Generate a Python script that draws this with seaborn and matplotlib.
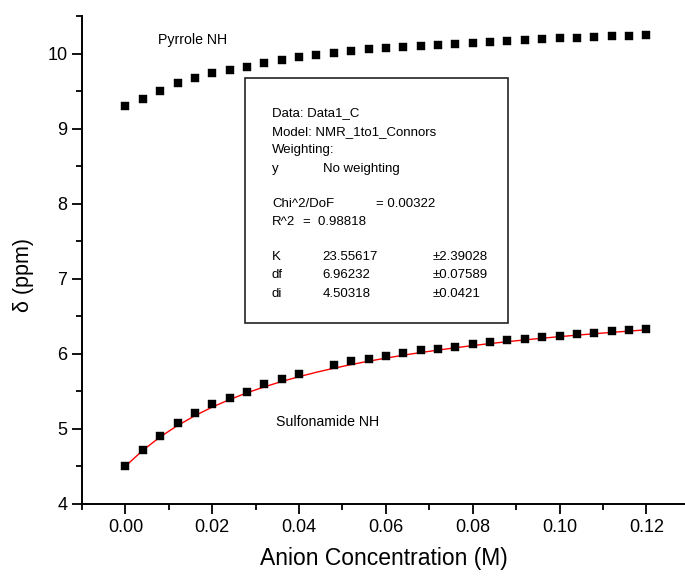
import matplotlib
matplotlib.use("Agg")
import matplotlib.pyplot as plt
from matplotlib.patches import Rectangle
from matplotlib.ticker import MultipleLocator
import numpy as np
import pandas as pd
import seaborn as sns

# ---- data ----
conc_pyrrole = [0.000, 0.004, 0.008, 0.012, 0.016, 0.020, 0.024, 0.028, 0.032, 0.036,
                0.040, 0.044, 0.048, 0.052, 0.056, 0.060, 0.064, 0.068, 0.072, 0.076,
                0.080, 0.084, 0.088, 0.092, 0.096, 0.100, 0.104, 0.108, 0.112, 0.116, 0.120]
shift_pyrrole = [9.295, 9.400, 9.499, 9.614, 9.677, 9.743, 9.783, 9.827, 9.880, 9.916,
                 9.951, 9.983, 10.009, 10.036, 10.057, 10.076, 10.090, 10.102, 10.120, 10.133,
                 10.146, 10.160, 10.169, 10.177, 10.190, 10.203, 10.213, 10.222, 10.230, 10.231, 10.249]

conc_sulfon = [0.000, 0.004, 0.008, 0.012, 0.016, 0.020, 0.024, 0.028, 0.032, 0.036,
               0.040, 0.048, 0.052, 0.056, 0.060, 0.064, 0.068, 0.072, 0.076,
               0.080, 0.084, 0.088, 0.092, 0.096, 0.100, 0.104, 0.108, 0.112, 0.116, 0.120]
shift_sulfon = [4.505, 4.718, 4.900, 5.080, 5.210, 5.330, 5.410, 5.493, 5.605, 5.666,
                5.730, 5.858, 5.906, 5.937, 5.972, 6.008, 6.046, 6.070, 6.097,
                6.131, 6.158, 6.181, 6.198, 6.221, 6.238, 6.265, 6.283, 6.300, 6.314, 6.336]

fit_conc = [0.000, 0.004, 0.008, 0.012, 0.016, 0.020, 0.024, 0.028, 0.032, 0.036,
            0.040, 0.044, 0.048, 0.052, 0.056, 0.060, 0.064, 0.068, 0.072, 0.076,
            0.080, 0.084, 0.088, 0.092, 0.096, 0.100, 0.104, 0.108, 0.112, 0.116, 0.120]
fit_shift = [4.503, 4.715, 4.893, 5.045, 5.176, 5.291, 5.391, 5.481, 5.560, 5.632,
             5.696, 5.755, 5.808, 5.857, 5.902, 5.943, 5.982, 6.017, 6.050, 6.081,
             6.110, 6.137, 6.162, 6.186, 6.208, 6.229, 6.249, 6.268, 6.286, 6.303, 6.320]

x_ticks = [0.00, 0.02, 0.04, 0.06, 0.08, 0.10, 0.12]
x_tick_labels = ["0.00", "0.02", "0.04", "0.06", "0.08", "0.10", "0.12"]
y_ticks = [4, 5, 6, 7, 8, 9, 10]

box_lines = [
    ("Data: Data1_C", None, None),
    ("Model: NMR_1to1_Connors", None, None),
    ("Weighting:", None, None),
    ("y", "No weighting", None),
    ("Chi^2/DoF", "= 0.00322", None),
    ("R^2", "=  0.98818", None),
    ("K", "23.55617", "\u00b12.39028"),
    ("df", "6.96232", "\u00b10.07589"),
    ("di", "4.50318", "\u00b10.0421"),
]

# ---- style ----
sns.set_theme(style="ticks")
plt.rcParams["font.family"] = ["Liberation Sans", "DejaVu Sans"]
plt.rcParams["text.color"] = "black"
plt.rcParams["axes.labelcolor"] = "black"
plt.rcParams["xtick.color"] = "black"
plt.rcParams["ytick.color"] = "black"

W, H = 685, 576
fig = plt.figure(figsize=(W / 100, H / 100), dpi=100)
L, R, T, B = 82, 685, 16, 504
ax = fig.add_axes([L / W, (H - B) / H, (R - L) / W, (B - T) / H])

df_p = pd.DataFrame({"conc": conc_pyrrole, "shift": shift_pyrrole})
df_s = pd.DataFrame({"conc": conc_sulfon, "shift": shift_sulfon})
df_f = pd.DataFrame({"conc": fit_conc, "shift": fit_shift})

sns.lineplot(data=df_f, x="conc", y="shift", ax=ax, color="#ff0000", linewidth=1.0,
             legend=False, zorder=2)
sns.scatterplot(data=df_p, x="conc", y="shift", ax=ax, marker="s", s=34, color="black",
                edgecolor="black", linewidth=0.3, legend=False, zorder=3)
sns.scatterplot(data=df_s, x="conc", y="shift", ax=ax, marker="s", s=38, color="black",
                edgecolor="black", linewidth=0.3, legend=False, zorder=3)

ax.set_xlim(-0.01, 0.1289)
ax.set_ylim(4, 10.5)
ax.set_xticks(x_ticks)
ax.set_xticklabels(x_tick_labels)
ax.set_yticks(y_ticks)
ax.xaxis.set_minor_locator(MultipleLocator(0.01))
ax.yaxis.set_minor_locator(MultipleLocator(0.5))

for s in ["top", "right"]:
    ax.spines[s].set_visible(False)
for s in ["left", "bottom"]:
    ax.spines[s].set_linewidth(1.4)
    ax.spines[s].set_color("black")

ax.tick_params(axis="both", which="major", direction="out", length=7, width=1.3,
               labelsize=13, pad=3.5, colors="black")
ax.tick_params(axis="both", which="minor", direction="out", length=4, width=1.3,
               colors="black")

ax.set_xlabel("Anion Concentration (M)", fontsize=16.5, labelpad=8, color="black")
ax.set_ylabel("\u03b4 (ppm)", fontsize=15.5, color="black")
ax.yaxis.set_label_coords(-0.08, 0.469)

# series labels
ax.text((157.7 - L) / (R - L), (B - 40) / (B - T), "Pyrrole NH", transform=ax.transAxes,
        fontsize=10.2, ha="left", va="center", color="black")
ax.text((275.7 - L) / (R - L), (B - 422.3) / (B - T), "Sulfonamide NH", transform=ax.transAxes,
        fontsize=10.2, ha="left", va="center", color="black")

# fit result box
bx0, bx1, by0, by1 = 245, 508, 78, 323
ax.add_patch(Rectangle(((bx0 - L) / (R - L), (B - by1) / (B - T)),
                       (bx1 - bx0) / (R - L), (by1 - by0) / (B - T),
                       transform=ax.transAxes, fill=True, facecolor="white",
                       edgecolor="#222222", linewidth=1.2, zorder=4))

line_y = [111.7, 130, 148.5, 167, 202, 220.5, 255.5, 273.8, 292.2]
col1 = 272
col2_default = 322.7
col3 = 432.7
for (a, b, c), py in zip(box_lines, line_y):
    fy = (B - py - 4.7) / (B - T)
    ax.text((col1 - L) / (R - L), fy, a, transform=ax.transAxes, fontsize=9.5,
            ha="left", va="baseline", zorder=5, color="black")
    if b is not None:
        if a.startswith("Chi"):
            bx = 376
        elif a.startswith("R^2"):
            bx = 303.3
        else:
            bx = col2_default
        ax.text((bx - L) / (R - L), fy, b, transform=ax.transAxes, fontsize=9.5,
                ha="left", va="baseline", zorder=5, color="black")
    if c is not None:
        ax.text((col3 - L) / (R - L), fy, c, transform=ax.transAxes, fontsize=9.5,
                ha="left", va="baseline", zorder=5, color="black")

fig.savefig("out.png", dpi=100)
